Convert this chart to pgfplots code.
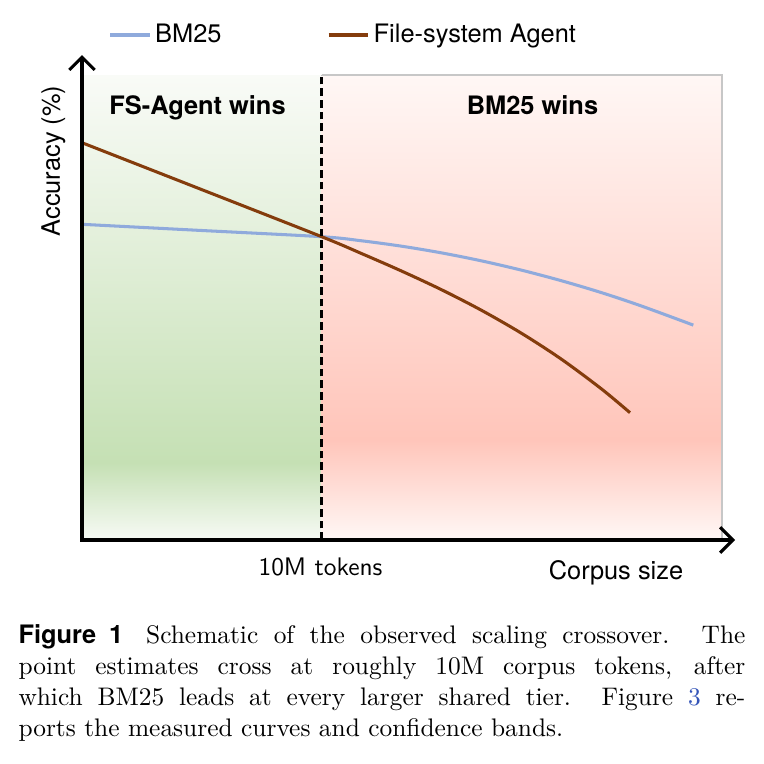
\documentclass[border=0pt]{standalone}
\usepackage{fontspec}
\newfontfamily\helv{TeX Gyre Heros}
\usepackage{pgfplots}
\pgfplotsset{compat=1.18}
\usetikzlibrary{arrows.meta}
\definecolor{bmblue}{HTML}{8FAADC}
\definecolor{fsbrown}{HTML}{843C0C}
\definecolor{linkblue}{rgb}{0.2,0.33,0.72}
\definecolor{gtop}{HTML}{F9FBF7}
\definecolor{gpeak}{HTML}{C5E0B4}
\definecolor{gbot}{HTML}{F7FAF5}
\definecolor{ptop}{HTML}{FFF7F5}
\definecolor{ppeak}{HTML}{FFC5BA}
\definecolor{pbot}{HTML}{FFF8F6}
\pgfdeclareverticalshading{greenbg}{100bp}{color(0bp)=(gbot); color(25bp)=(gbot); color(33.3bp)=(gpeak); color(75bp)=(gtop); color(100bp)=(gtop)}
\pgfdeclareverticalshading{pinkbg}{100bp}{color(0bp)=(pbot); color(25bp)=(pbot); color(35.75bp)=(ppeak); color(75bp)=(ptop); color(100bp)=(ptop)}
\def\px{0.3937pt}
\begin{document}
\begin{tikzpicture}
\useasboundingbox (-82*\px,-224*\px) rectangle (682*\px,540*\px);
\begin{axis}[
  at={(0,0)}, anchor=south west,
  scale only axis, width=257.09pt, height=190.94pt,
  xmin=0, xmax=653, ymin=0, ymax=485,
  axis lines=none, clip=false,
  legend columns=2,
  legend image code/.code={\draw[#1, line width=1.2pt] (0pt,0pt) -- (15.7pt,0pt);},
  legend style={at={(axis cs:26,505)}, anchor=west, draw=none, fill=none,
    font=\helv\fontsize{10}{12}\selectfont, inner sep=0pt,
    nodes={inner sep=1.5pt},
    /tikz/column 2/.style={column sep=40pt}},
]
\fill[shading=greenbg] (axis cs:0,0) rectangle (axis cs:239.7,465);
\fill[shading=pinkbg] (axis cs:239.7,0) rectangle (axis cs:640,465);
\draw[black!22, line width=0.5pt] (axis cs:239.7,465) -- (axis cs:640,465) -- (axis cs:640,0);

\addplot[bmblue, line width=1.2pt, smooth] coordinates {
 (0,315.7) (120,309.5) (239.7,303.3) (279.7,299.2) (319.7,293.8) (359.7,287.1) (399.7,279.1)
 (439.7,269.8) (479.7,259.2) (519.7,247.3) (559.7,233.9) (611.3,214.9)};
\addlegendentry{BM25}
\addplot[fsbrown, line width=1.2pt, smooth] coordinates {
 (0,397.3) (120,350.3) (239.7,303.3) (279.7,286.4) (319.7,268.9) (359.7,250.2) (399.7,229.6)
 (439.7,206.6) (479.7,180.6) (519.7,150.9) (548,127.3)};
\addlegendentry{File-system Agent}

\draw[black, line width=1.25pt, dash pattern=on 3pt off 1.6pt] (axis cs:239.7,0) -- (axis cs:239.7,465);
\draw[black, line width=1.2pt, {Straight Barb[length=5pt,width=10pt]}-{Straight Barb[length=5pt,width=10pt]}]
  (axis cs:0,485) -- (axis cs:0,0) -- (axis cs:653,0);

\node[anchor=base, font=\helv\bfseries\fontsize{10}{12}\selectfont] at (axis cs:115.5,426) {FS-Agent wins};
\node[anchor=base, font=\helv\bfseries\fontsize{10}{12}\selectfont] at (axis cs:450.5,426) {BM25 wins};
\node[anchor=base, rotate=90, font=\helv\fontsize{10}{12}\selectfont] at (axis cs:-22,379) {Accuracy (\%)};
\node[anchor=base, font=\helv\fontsize{10}{12}\selectfont] at (axis cs:534,-39) {Corpus size};
\node[anchor=base, font=\sffamily\fontsize{10}{12}\selectfont] at (axis cs:238.5,-35) {10M tokens};

\node[anchor=base west, inner sep=0pt, font=\fontsize{10}{12}\selectfont] at (axis cs:-64,-104)
  {\makebox[286.2pt][s]{{\helv\bfseries Figure 1}\hspace{0.9em}Schematic of the observed scaling crossover. The}};
\node[anchor=base west, inner sep=0pt, font=\fontsize{10}{12}\selectfont] at (axis cs:-64,-135)
  {\makebox[286.2pt][s]{point estimates cross at roughly 10M corpus tokens, after}};
\node[anchor=base west, inner sep=0pt, font=\fontsize{10}{12}\selectfont] at (axis cs:-64,-166)
  {\makebox[286.2pt][s]{which BM25 leads at every larger shared tier. Figure \textcolor{linkblue}{3} re-}};
\node[anchor=base west, inner sep=0pt, font=\fontsize{10}{12}\selectfont] at (axis cs:-64,-197)
  {ports the measured curves and confidence bands.};
\end{axis}
\end{tikzpicture}
\end{document}
